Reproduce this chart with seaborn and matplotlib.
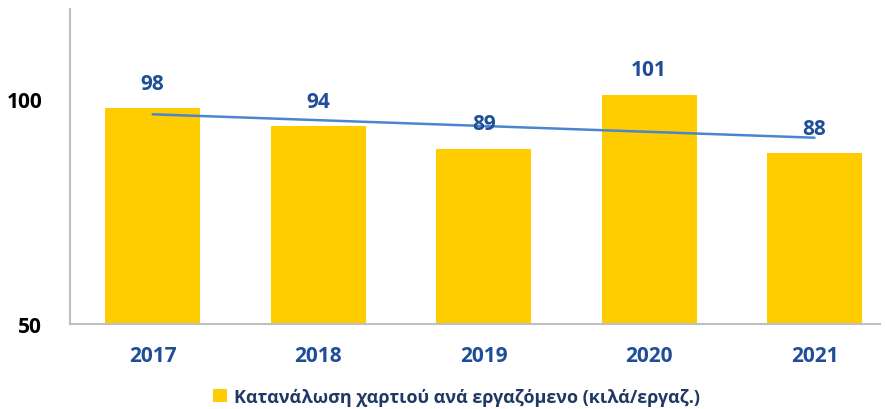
import numpy as np
import pandas as pd
import matplotlib
matplotlib.use("Agg")
import matplotlib.pyplot as plt
import seaborn as sns
from matplotlib.patches import Patch

years = ["2017", "2018", "2019", "2020", "2021"]
values = [98, 94, 89, 101, 88]
yticks = [50, 100]
legend_label = "Κατανάλωση χαρτιού ανά εργαζόμενο (κιλά/εργαζ.)"

sns.set_theme(style="white")
plt.rcParams['font.family'] = ['Open Sans', 'DejaVu Sans']

df = pd.DataFrame({"year": years, "value": values})

fig = plt.figure(figsize=(8.85, 4.1), dpi=100)
ax = fig.add_axes([0.0791, 0.2073, 0.9153, 0.7683])

bar_color = "#FFCC00"
sns.barplot(data=df, x="year", y="value", color=bar_color, width=0.574,
            saturation=1, ax=ax, edgecolor="none")

# linear trend line
xs = np.arange(len(values))
coef = np.polyfit(xs, values, 1)
ax.plot(xs, np.polyval(coef, xs), color="#4A86D0", lw=1.8, zorder=3)

for i, v in enumerate(values):
    ax.annotate(str(v), (i, v), xytext=(0, 18), textcoords="offset points",
                ha="center", va="center", fontsize=15, fontweight="bold",
                color="#1F4E99")

ax.set_ylim(50, 120)
ax.set_xlim(-0.5, 4.396)
ax.set_yticks(yticks)
ax.set_yticklabels([str(t) for t in yticks], fontsize=15, fontweight="bold", color="black")
ax.set_xticks(range(len(years)))
ax.set_xticklabels(years, fontsize=15, fontweight="bold", color="#1F4E99")
ax.tick_params(axis="y", length=0, pad=20)
ax.tick_params(axis="x", length=0, pad=15)
ax.set_xlabel("")
ax.set_ylabel("")
for s in ["top", "right"]:
    ax.spines[s].set_visible(False)
for s in ["left", "bottom"]:
    ax.spines[s].set_color("#BFBFBF")
    ax.spines[s].set_linewidth(1.5)

handle = Patch(facecolor=bar_color, edgecolor="none")
fig.legend([handle], [legend_label], loc="center", bbox_to_anchor=(0.516, 0.030),
           frameon=False, prop={"size": 13, "weight": "bold"},
           handlelength=0.8, handleheight=0.8, handletextpad=0.4,
           labelcolor="#1F3864")

fig.savefig("out.png", dpi=100)
